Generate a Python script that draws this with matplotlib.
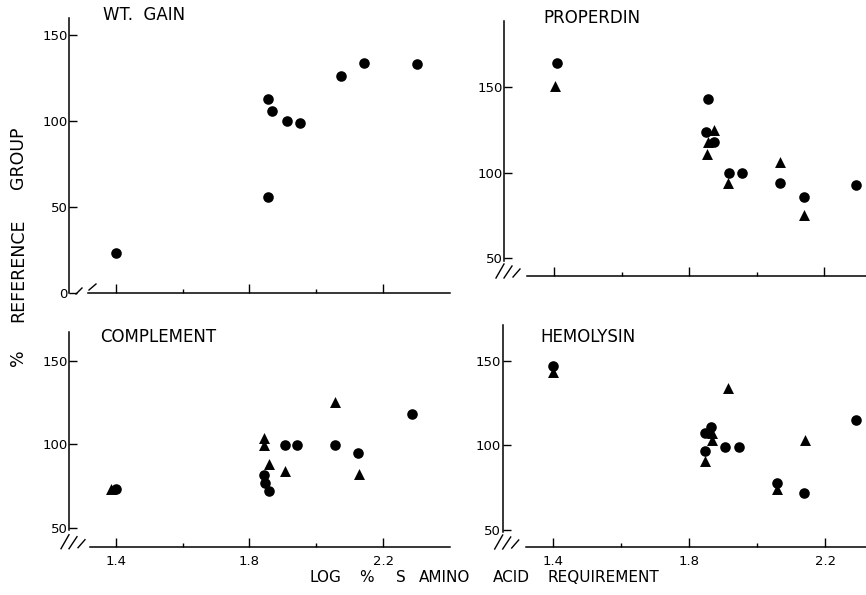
import matplotlib
matplotlib.use("Agg")
import matplotlib.pyplot as plt

plt.rcParams['font.family'] = ['DejaVu Sans']

# ---------------- data ----------------
wt_circ_x = [1.40, 1.854, 1.866, 1.912, 1.952, 1.854, 2.074, 2.143, 2.300]
wt_circ_y = [23, 113, 106, 100, 99, 56, 126, 134, 133]

pro_circ_x = [1.408, 1.857, 1.851, 1.874, 1.917, 1.957, 2.068, 2.141, 2.292]
pro_circ_y = [164, 143, 124, 118, 100, 100, 94, 86, 93]
pro_tri_x = [1.404, 1.874, 1.857, 1.853, 1.915, 2.068, 2.141]
pro_tri_y = [151, 125, 118, 111, 94, 106, 75]

com_circ_x = [1.40, 1.843, 1.845, 1.858, 1.906, 1.943, 2.056, 2.125, 2.287]
com_circ_y = [73, 81.5, 77, 72, 99.5, 99.5, 99.5, 95, 118]
com_tri_x = [1.386, 1.843, 1.843, 1.859, 1.906, 2.055, 2.129]
com_tri_y = [73.5, 104, 99.5, 88, 84, 125, 82]

hem_circ_x = [1.40, 1.864, 1.847, 1.847, 1.906, 1.948, 2.059, 2.137, 2.290]
hem_circ_y = [147, 111, 107, 96.5, 99, 99, 78, 72, 115]
hem_tri_x = [1.40, 1.913, 1.866, 1.866, 1.847, 2.059, 2.140]
hem_tri_y = [143, 134, 107, 103, 91, 74, 103]

x_major = [1.4, 1.8, 2.2]
x_minor = [1.6, 2.0]
x_labels = ["1.4", "1.8", "2.2"]

titles = ["WT.  GAIN", "PROPERDIN", "COMPLEMENT", "HEMOLYSIN"]
ylabel_words = ["%", "REFERENCE", "GROUP"]
xlabel_words = ["LOG", "%", "S", "AMINO", "ACID", "REQUIREMENT"]

W, H = 866, 595
fig = plt.figure(figsize=(W / 100, H / 100), dpi=100)


def px_axes(l, r, b, t):
    return fig.add_axes([l / W, 1 - b / H, (r - l) / W, (b - t) / H])


panels = [
    dict(box=(69, 450, 293, 18), xlim=(1.26, 2.40), ylim=(0, 160), yt=[0, 50, 100, 150],
         xstart=1.317, ystart=0, circ=(wt_circ_x, wt_circ_y), tri=None, labels=False,
         brk='two', tpos=(103, 15)),
    dict(box=(504, 866, 276, 20.7), xlim=(1.252, 2.323), ylim=(39.5, 189), yt=[50, 100, 150],
         xstart=1.32, ystart=48, circ=(pro_circ_x, pro_circ_y), tri=(pro_tri_x, pro_tri_y),
         labels=False, brk='hatch', tpos=(543, 18)),
    dict(box=(69, 450, 546.7, 331.7), xlim=(1.26, 2.40), ylim=(38.8, 167.3), yt=[50, 100, 150],
         xstart=1.323, ystart=48.5, circ=(com_circ_x, com_circ_y), tri=(com_tri_x, com_tri_y),
         labels=True, brk='hatch', tpos=(100, 337)),
    dict(box=(502.7, 866, 547, 325), xlim=(1.252, 2.32), ylim=(40, 171), yt=[50, 100, 150],
         xstart=1.32, ystart=49, circ=(hem_circ_x, hem_circ_y), tri=(hem_tri_x, hem_tri_y),
         labels=True, brk='hatch', tpos=(540, 337)),
]

for p, title in zip(panels, titles):
    l, r, b, t = p['box']
    ax = px_axes(l, r, b, t)
    ax.set_xlim(*p['xlim'])
    ax.set_ylim(*p['ylim'])
    for s in ['top', 'right']:
        ax.spines[s].set_visible(False)
    ax.spines['left'].set_linewidth(1.1)
    ax.spines['bottom'].set_linewidth(1.1)
    ax.spines['bottom'].set_bounds(p['xstart'], p['xlim'][1])
    ax.spines['left'].set_bounds(p['ystart'], p['ylim'][1])

    ax.scatter(*p['circ'], marker='o', s=58, color='black', linewidths=0, zorder=3, clip_on=False)
    if p['tri'] is not None:
        ax.scatter(*p['tri'], marker='^', s=62, color='black', linewidths=0, zorder=3, clip_on=False)

    ax.set_yticks(p['yt'])
    ax.set_yticklabels([str(v) for v in p['yt']], fontsize=9.5)
    ax.tick_params(axis='y', direction='in', length=6, width=1.0, pad=1)

    ax.set_xticks(x_major)
    ax.set_xticks(x_minor, minor=True)
    if p['labels']:
        ax.set_xticklabels(x_labels, fontsize=9.5)
    else:
        ax.set_xticklabels([])
    ax.tick_params(axis='x', which='major', direction='in', length=6.5, width=1.0, pad=6)
    ax.tick_params(axis='x', which='minor', direction='in', length=3, width=1.0)

    tx, ty = p['tpos']
    fig.text(tx / W, 1 - ty / H, title, fontsize=12, ha='left', va='center')

    # axis break decoration (in pixels relative to axes origin)
    ox, oy = l, H - b
    if p['brk'] == 'two':
        segs = [((7, -1), (13, 5)), ((20, 3), (27, 9))]
    else:
        segs = [((-8, -2), (0, 12)), ((0, -2), (8, 10)), ((9, -1), (16, 7))]
    for (x0, y0), (x1, y1) in segs:
        ax.plot([ox + x0, ox + x1], [oy + y0, oy + y1], transform=None,
                color='black', lw=1.0, clip_on=False)

# axis labels, word by word (centres in pixels)
for word, yc in zip(ylabel_words, [358, 270, 158]):
    fig.text(18 / W, 1 - yc / H, word, rotation=90, fontsize=12.5,
             ha='center', va='center')
for word, xc in zip(xlabel_words, [325, 366, 401, 445, 511, 603]):
    fig.text(xc / W, 1 - 578 / H, word, fontsize=11, ha='center', va='center')

fig.savefig("out.png", dpi=100)
